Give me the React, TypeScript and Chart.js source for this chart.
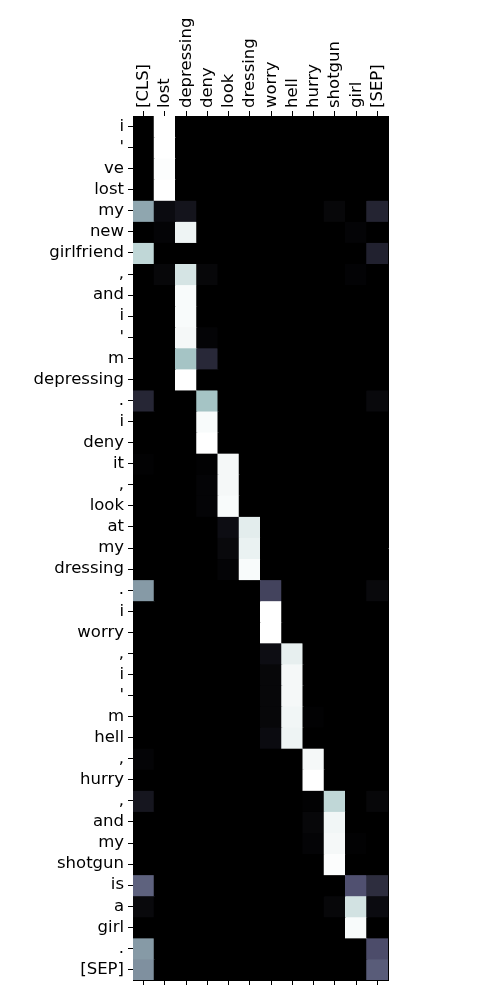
import React, { useEffect, useRef } from "react";
import { Chart, registerables } from "chart.js";

Chart.register(...registerables);

const columns = ["[CLS]", "lost", "depressing", "deny", "look", "dressing", "worry", "hell", "hurry", "shotgun", "girl", "[SEP]"];

const rowLabels = [
  "i", "'", "ve", "lost", "my", "new", "girlfriend", ",", "and", "i", "'", "m", "depressing", ".",
  "i", "deny", "it", ",", "look", "at", "my", "dressing", ".", "i", "worry", ",", "i", "'", "m",
  "hell", ",", "hurry", ",", "and", "my", "shotgun", "is", "a", "girl", ".", "[SEP]",
];

// attention weights, one row per token, columns as in `columns`
const weights: number[][] = [
  [0, 1, 0, 0, 0, 0, 0, 0, 0, 0, 0, 0],
  [0, 1, 0, 0, 0, 0, 0, 0, 0, 0, 0, 0],
  [0, 0.99, 0, 0, 0, 0, 0, 0, 0, 0, 0, 0],
  [0, 1, 0, 0, 0, 0, 0, 0, 0, 0, 0, 0],
  [0.64, 0.05, 0.09, 0, 0, 0, 0, 0, 0, 0.03, 0, 0.16],
  [0, 0.02, 0.95, 0, 0, 0, 0, 0, 0, 0, 0.02, 0],
  [0.82, 0, 0, 0, 0, 0, 0, 0, 0, 0, 0, 0.15],
  [0, 0.03, 0.88, 0.03, 0, 0, 0, 0, 0, 0, 0.015, 0],
  [0, 0, 0.98, 0, 0, 0, 0, 0, 0, 0, 0, 0],
  [0, 0, 0.98, 0, 0, 0, 0, 0, 0, 0, 0, 0],
  [0, 0, 0.97, 0.02, 0, 0, 0, 0, 0, 0, 0, 0],
  [0, 0, 0.74, 0.18, 0, 0, 0, 0, 0, 0, 0, 0],
  [0, 0, 1, 0, 0, 0, 0, 0, 0, 0, 0, 0],
  [0.17, 0, 0, 0.74, 0, 0, 0, 0, 0, 0, 0, 0.04],
  [0, 0, 0, 0.98, 0, 0, 0, 0, 0, 0, 0, 0],
  [0, 0, 0, 1, 0, 0, 0, 0, 0, 0, 0, 0],
  [0.01, 0, 0, 0.01, 0.97, 0, 0, 0, 0, 0, 0, 0],
  [0, 0, 0, 0.02, 0.97, 0, 0, 0, 0, 0, 0, 0],
  [0, 0, 0, 0.02, 0.98, 0, 0, 0, 0, 0, 0, 0],
  [0, 0, 0, 0, 0.06, 0.92, 0, 0, 0, 0, 0, 0],
  [0, 0, 0, 0, 0.04, 0.94, 0, 0, 0, 0, 0, 0],
  [0, 0, 0, 0, 0.02, 0.98, 0, 0, 0, 0, 0, 0],
  [0.6, 0, 0, 0, 0, 0, 0.3, 0, 0, 0, 0, 0.04],
  [0, 0, 0, 0, 0, 0, 1, 0, 0, 0, 0, 0],
  [0, 0, 0, 0, 0, 0, 1, 0, 0, 0, 0, 0],
  [0, 0, 0, 0, 0, 0, 0.06, 0.93, 0, 0, 0, 0],
  [0, 0, 0, 0, 0, 0, 0.03, 0.97, 0, 0, 0, 0],
  [0, 0, 0, 0, 0, 0, 0.03, 0.97, 0, 0, 0, 0],
  [0, 0, 0, 0, 0, 0, 0.03, 0.96, 0.01, 0, 0, 0],
  [0, 0, 0, 0, 0, 0, 0.05, 0.95, 0, 0, 0, 0],
  [0.02, 0, 0, 0, 0, 0, 0, 0, 0.97, 0, 0, 0],
  [0, 0, 0, 0, 0, 0, 0, 0, 1, 0, 0, 0],
  [0.1, 0, 0, 0, 0, 0, 0, 0, 0.01, 0.82, 0, 0.03],
  [0, 0, 0, 0, 0, 0, 0, 0, 0.03, 0.96, 0, 0],
  [0, 0, 0, 0, 0, 0, 0, 0, 0.02, 0.97, 0.01, 0],
  [0, 0, 0, 0, 0, 0, 0, 0, 0, 0.99, 0, 0],
  [0.42, 0, 0, 0, 0, 0, 0, 0, 0, 0, 0.36, 0.2],
  [0.04, 0, 0, 0, 0, 0, 0, 0, 0, 0.03, 0.87, 0.05],
  [0, 0, 0, 0, 0, 0, 0, 0, 0, 0, 0.98, 0],
  [0.6, 0, 0, 0, 0, 0, 0, 0, 0, 0, 0, 0.34],
  [0.57, 0, 0, 0, 0, 0, 0, 0, 0, 0, 0, 0.4],
];

function interp(stops: number[][], v: number): number {
  for (let i = 1; i < stops.length; i++) {
    if (v <= stops[i][0]) {
      const [x0, y0] = stops[i - 1];
      const [x1, y1] = stops[i];
      return y0 + ((v - x0) / (x1 - x0)) * (y1 - y0);
    }
  }
  return stops[stops.length - 1][1];
}

function bone(v: number): string {
  const t = Math.max(0, Math.min(1, v));
  const r = interp([[0, 0], [0.746032, 0.652778], [1, 1]], t);
  const g = interp([[0, 0], [0.365079, 0.319444], [0.746032, 0.777778], [1, 1]], t);
  const b = interp([[0, 0], [0.365079, 0.444444], [1, 1]], t);
  return `rgb(${Math.round(r * 255)},${Math.round(g * 255)},${Math.round(b * 255)})`;
}

const blackArea = {
  id: "blackArea",
  beforeDatasetsDraw(chart: any) {
    const { ctx, chartArea } = chart;
    ctx.save();
    ctx.fillStyle = "#000";
    ctx.fillRect(chartArea.left, chartArea.top, chartArea.right - chartArea.left, chartArea.bottom - chartArea.top);
    ctx.restore();
  },
};

export default function App() {
  const ref = useRef<HTMLCanvasElement | null>(null);

  useEffect(() => {
    document.body.style.margin = "0";
    const canvas = ref.current;
    if (!canvas) return;
    const font = { family: "DejaVu Sans", size: 16.5 };
    const chart = new Chart(canvas, {
      type: "bar",
      data: {
        labels: columns,
        datasets: weights.map((row, i) => ({
          label: rowLabels[i],
          data: columns.map(() => 1),
          backgroundColor: row.map((v) => bone(v)),
          borderWidth: 0,
          inflateAmount: 0.5,
          barPercentage: 1,
          categoryPercentage: 1,
          xAxisID: "x",
          yAxisID: "y",
        })),
      },
      plugins: [blackArea],
      options: {
        animation: false,
        responsive: false,
        maintainAspectRatio: false,
        layout: { padding: 0 },
        plugins: { legend: { display: false }, tooltip: { enabled: false } },
        scales: {
          x: {
            type: "category",
            position: "top",
            stacked: true,
            offset: true,
            grid: { offset: false, drawOnChartArea: false, drawTicks: true, tickLength: 5, tickColor: "#000" },
            border: { display: true, color: "#000", width: 1 },
            ticks: { color: "#000", font, minRotation: 90, maxRotation: 90, autoSkip: false, padding: 3, labelOffset: 20 },
            afterFit: (s: any) => { s.height = 116; },
          },
          x2: {
            type: "category",
            position: "bottom",
            offset: true,
            grid: { offset: false, drawOnChartArea: false, drawTicks: true, tickLength: 5, tickColor: "#000" },
            border: { display: true, color: "#000", width: 1 },
            ticks: { callback: () => "", autoSkip: false },
            afterFit: (s: any) => { s.height = 20; },
          },
          y: {
            type: "linear",
            position: "left",
            stacked: true,
            reverse: true,
            min: 0,
            max: rowLabels.length,
            grid: { drawOnChartArea: false, drawTicks: true, tickLength: 5, tickColor: "#000" },
            border: { display: true, color: "#000", width: 1 },
            afterBuildTicks: (s: any) => {
              s.ticks = rowLabels.map((_, i) => ({ value: i + 0.5 }));
            },
            ticks: {
              color: "#000",
              font,
              autoSkip: false,
              padding: 4,
              callback: (v: any) => rowLabels[Math.floor(Number(v))] ?? "",
            },
            afterFit: (s: any) => { s.width = 133; },
          },
          y2: {
            type: "linear",
            position: "right",
            min: 0,
            max: rowLabels.length,
            grid: { drawOnChartArea: false, drawTicks: false },
            border: { display: true, color: "#000", width: 1 },
            ticks: { display: false },
            afterFit: (s: any) => { s.width = 112; },
          },
        },
      } as any,
    });
    return () => chart.destroy();
  }, []);

  return <canvas ref={ref} width={500} height={1000} style={{ display: "block", width: 500, height: 1000 }} />;
}
